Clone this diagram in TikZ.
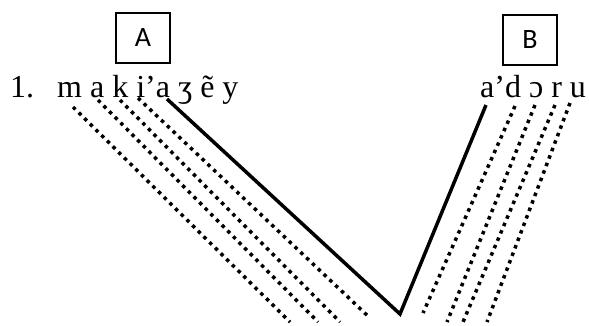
\documentclass[tikz,border=0pt]{standalone}
\usepackage{fontspec}
\setmainfont{Liberation Serif}
\newfontfamily\boxfont{Carlito}
\begin{document}
\begin{tikzpicture}[x=1pt, y=-1pt,
  letterbox/.style={rectangle, draw, line width=2pt, minimum width=54pt,
                    minimum height=50pt, inner sep=0pt,
                    font=\boxfont\fontsize{28}{28}\selectfont},
  word/.style={anchor=base west, inner sep=0pt,
               font=\fontsize{32}{36}\selectfont},
  link/.style={line width=3.5pt},
  dotlink/.style={line width=3.5pt, dash pattern=on 3.5pt off 4.5pt}
]
\useasboundingbox (0,0) rectangle (589,325);
\node[letterbox] (boxA) at (143,38) {A};
\node[letterbox] (boxB) at (530,39.5) {B};
\node[word] (num) at (10,97) {1.};
\node[word] (wordA) at (57,97) {m a k i’a ʒ ẽ y};
\node[word] (wordB) at (480,97) {a’d ɔ r u};
% solid link
\coordinate (sA) at (167,99);
\coordinate (v) at (400,314);
\coordinate (sB) at (486,105);
\draw[link] (sA) -- (v) -- (sB);
% dotted links, left word
\foreach \n/\sx/\sy/\ex/\ey in {1/73/107/290/322, 2/98/100/318/322,
                                3/120/100/340/322, 4/138/98/370/318}{
  \coordinate (la\n) at (\sx,\sy);
  \coordinate (lb\n) at (\ex,\ey);
  \draw[dotlink] (la\n) -- (lb\n);
}
% dotted links, right word
\foreach \n/\sx/\sy/\ex/\ey in {1/515/106/423/313, 2/535/105/447/322,
                                3/555/105/463/322, 4/570/103/487/322}{
  \coordinate (ra\n) at (\sx,\sy);
  \coordinate (rb\n) at (\ex,\ey);
  \draw[dotlink] (ra\n) -- (rb\n);
}
\end{tikzpicture}
\end{document}
